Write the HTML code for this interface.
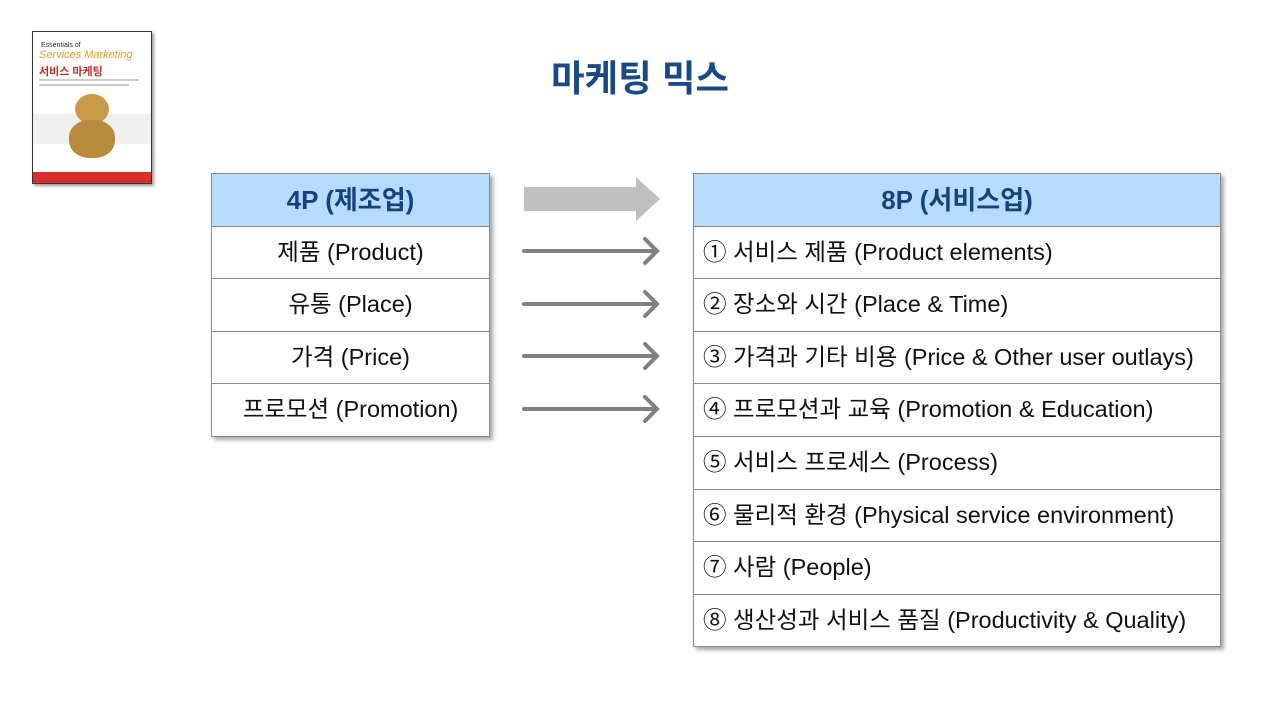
<!DOCTYPE html>
<html><head><meta charset="utf-8"><style>
*{margin:0;padding:0;box-sizing:border-box}
body{width:1280px;height:720px;background:#fff;position:relative;overflow:hidden;font-family:"Liberation Sans","Noto Sans CJK KR",sans-serif}
.t{position:absolute;left:0;width:1280px;top:49px;text-align:center;font-size:36.5px;font-weight:bold;color:#1a4a86}
table{position:absolute;border-collapse:collapse;box-shadow:3px 3px 4px rgba(0,0,0,.35)}
td{border:1.5px solid #8a8a8a;height:52.6px;font-size:23.5px;color:#111;padding:0 9px;white-space:nowrap;line-height:1}
td.h{background:#b7dcfb;color:#16437c;font-weight:bold;font-size:26px;text-align:center}
#L{left:211px;top:173px;width:279px}
#L td{text-align:center}
#R{left:693px;top:173px;width:528px}
.book{position:absolute;left:32px;top:31px;width:120px;height:153px;border:1px solid #333;background:#fff;box-shadow:2px 2px 3px rgba(0,0,0,.4);overflow:hidden}
</style></head><body>
<div class="book">
<div style="position:absolute;left:8px;top:10px;font-size:7px;color:#333">Essentials of</div>
<div style="position:absolute;left:6px;top:17px;font-size:11px;color:#e0a020;font-style:italic">Services Marketing</div>
<div style="position:absolute;left:6px;top:31px;font-size:11px;color:#c0302a;font-weight:bold">서비스 마케팅</div>
<div style="position:absolute;left:6px;top:47px;width:100px;height:2px;background:#ccc"></div>
<div style="position:absolute;left:6px;top:52px;width:90px;height:2px;background:#ccc"></div>
<div style="position:absolute;left:0;top:82px;width:120px;height:30px;background:#f0f0f0"></div>
<div style="position:absolute;left:42px;top:62px;width:34px;height:30px;border-radius:50%;background:#c89a4a"></div>
<div style="position:absolute;left:36px;top:88px;width:46px;height:38px;border-radius:45%;background:#b88a3c"></div>
<div style="position:absolute;left:0;top:140px;width:120px;height:13px;background:#d8302a"></div>
</div>
<div class="t">마케팅 믹스</div>
<table id="L">
<tr><td class="h">4P (제조업)</td></tr>
<tr><td>제품 (Product)</td></tr>
<tr><td>유통 (Place)</td></tr>
<tr><td>가격 (Price)</td></tr>
<tr><td>프로모션 (Promotion)</td></tr>
</table>
<table id="R">
<tr><td class="h">8P (서비스업)</td></tr>
<tr><td>① 서비스 제품 (Product elements)</td></tr>
<tr><td>② 장소와 시간 (Place &amp; Time)</td></tr>
<tr><td>③ 가격과 기타 비용 (Price &amp; Other user outlays)</td></tr>
<tr><td>④ 프로모션과 교육 (Promotion &amp; Education)</td></tr>
<tr><td>⑤ 서비스 프로세스 (Process)</td></tr>
<tr><td>⑥ 물리적 환경 (Physical service environment)</td></tr>
<tr><td>⑦ 사람 (People)</td></tr>
<tr><td>⑧ 생산성과 서비스 품질 (Productivity &amp; Quality)</td></tr>
</table>
<svg style="position:absolute;left:0;top:0" width="1280" height="720">
<polygon points="524,187 636,187 636,177 660,199 636,221 636,211 524,211" fill="#bfbfbf"/>
<g stroke="#808080" stroke-width="4" fill="none" stroke-linecap="round">
<path d="M524 251H656M645 239L657 251L645 263"/>
<path d="M524 304H656M645 292L657 304L645 316"/>
<path d="M524 356H656M645 344L657 356L645 368"/>
<path d="M524 409H656M645 397L657 409L645 421"/>
</g>
</svg>
</body></html>
